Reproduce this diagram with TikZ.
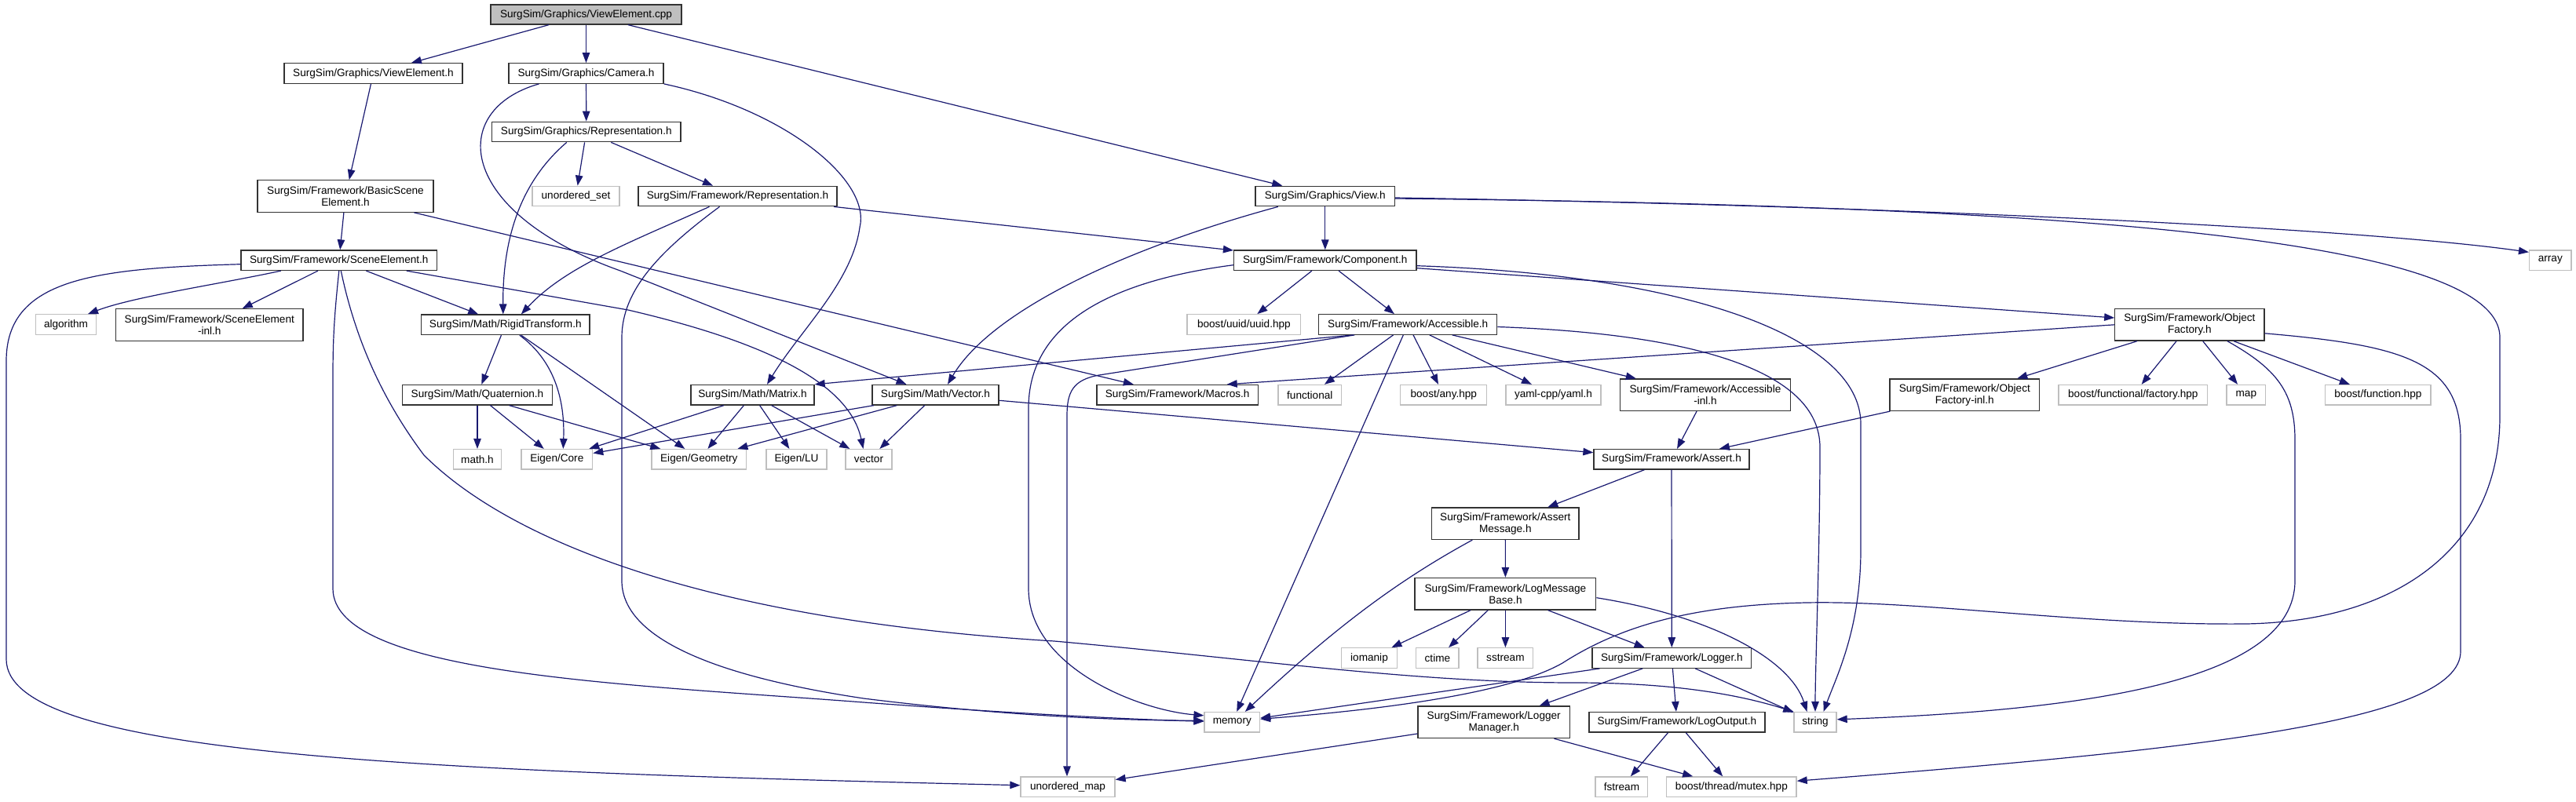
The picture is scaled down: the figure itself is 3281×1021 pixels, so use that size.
\documentclass[tikz,border=0pt]{standalone}
\usepackage{fontspec}
\setmainfont{Liberation Sans}
\usetikzlibrary{arrows.meta}
\definecolor{edgec}{HTML}{191970}
\definecolor{grayb}{HTML}{BFBFBF}
\definecolor{boxb}{HTML}{333333}
\begin{document}
\begin{tikzpicture}[x=1pt,y=-1pt,
  nbox/.style={draw=boxb, line width=1.3pt, inner sep=0pt, align=center,
    font=\fontsize{13.6}{15}\selectfont, minimum height=25.5pt, text=black},
  xbox/.style={nbox, draw=grayb},
  two/.style={minimum height=40.5pt},
  conn/.style={draw=edgec, line width=1.2pt, -{Triangle[length=13pt,width=9.5pt]}}]
\useasboundingbox (0,0) rectangle (3281,1021);
% nodes
\node[nbox, fill=grayb, minimum width=243pt, minimum height=25pt] (root) at (746.5,18.5) {SurgSim/Graphics/ViewElement.cpp};
\node[nbox, minimum width=227pt] (veh) at (475.5,93.5) {SurgSim/Graphics/ViewElement.h};
\node[nbox, minimum width=197pt] (cam) at (746.5,93.5) {SurgSim/Graphics/Camera.h};
\node[nbox, minimum width=240.5pt] (grep) at (746.8,168) {SurgSim/Graphics/Representation.h};
\node[xbox, minimum width=111pt] (uset) at (733.5,250) {unordered\_set};
\node[nbox, minimum width=253pt] (frep) at (939.5,250) {SurgSim/Framework/Representation.h};
\node[nbox, minimum width=177.5pt] (view) at (1687.8,250) {SurgSim/Graphics/View.h};
\node[nbox, two, minimum width=224pt] (bse) at (440,250) {SurgSim/Framework/BasicScene\\Element.h};
\node[nbox, minimum width=249.5pt] (se) at (431.8,331.7) {SurgSim/Framework/SceneElement.h};
\node[nbox, minimum width=232.5pt] (comp) at (1687.8,331.7) {SurgSim/Framework/Component.h};
\node[xbox, minimum width=53.5pt] (arr) at (3248.3,331.7) {array};
\node[xbox, minimum width=77pt] (alg) at (84,413.5) {algorithm};
\node[nbox, two, minimum width=238.5pt] (seinl) at (266.8,414) {SurgSim/Framework/SceneElement\\-inl.h};
\node[nbox, minimum width=214.4pt] (rt) at (643.8,413.8) {SurgSim/Math/RigidTransform.h};
\node[xbox, minimum width=144.7pt] (uuid) at (1584.4,413.5) {boost/uuid/uuid.hpp};
\node[nbox, minimum width=227pt] (acc) at (1793.2,413.5) {SurgSim/Framework/Accessible.h};
\node[nbox, two, minimum width=190.2pt] (of) at (2788.9,413.8) {SurgSim/Framework/Object\\Factory.h};
\node[nbox, minimum width=191pt] (quat) at (608,503.2) {SurgSim/Math/Quaternion.h};
\node[nbox, minimum width=157pt] (mat) at (958.5,503.2) {SurgSim/Math/Matrix.h};
\node[nbox, minimum width=161pt] (vec) at (1191.5,503.2) {SurgSim/Math/Vector.h};
\node[nbox, minimum width=205.4pt] (mac) at (1499.7,503.2) {SurgSim/Framework/Macros.h};
\node[xbox, minimum width=80.5pt] (func) at (1668.3,503.2) {functional};
\node[xbox, minimum width=110pt] (bany) at (1838.8,503.2) {boost/any.hpp};
\node[xbox, minimum width=121pt] (yaml) at (1978.5,503.2) {yaml-cpp/yaml.h};
\node[nbox, two, minimum width=217pt] (accinl) at (2172,503.2) {SurgSim/Framework/Accessible\\-inl.h};
\node[nbox, two, minimum width=190.5pt] (ofinl) at (2502.3,503.2) {SurgSim/Framework/Object\\Factory-inl.h};
\node[xbox, minimum width=189.5pt] (bff) at (2716.8,503.2) {boost/functional/factory.hpp};
\node[xbox, minimum width=49.7pt] (map) at (2860.8,503.2) {map};
\node[xbox, minimum width=134.4pt] (bfn) at (3028.8,503.2) {boost/function.hpp};
\node[xbox, minimum width=61.2pt] (math) at (608,585.3) {math.h};
\node[xbox, minimum width=90.7pt] (ecore) at (709.3,585.3) {Eigen/Core};
\node[xbox, minimum width=120.7pt] (egeo) at (890.3,585.3) {Eigen/Geometry};
\node[xbox, minimum width=77pt] (elu) at (1014.5,585.3) {Eigen/LU};
\node[xbox, minimum width=59pt] (vector) at (1106.5,585.3) {vector};
\node[nbox, minimum width=198pt] (assert) at (2129,585.3) {SurgSim/Framework/Assert.h};
\node[nbox, two, minimum width=187.4pt] (amsg) at (1917.3,667.2) {SurgSim/Framework/Assert\\Message.h};
\node[nbox, two, minimum width=230.7pt] (lmb) at (1917.4,756.7) {SurgSim/Framework/LogMessage\\Base.h};
\node[xbox, minimum width=71pt] (ioman) at (1744,838.5) {iomanip};
\node[xbox, minimum width=54.3pt] (ctime) at (1830.9,838.5) {ctime};
\node[xbox, minimum width=70.8pt] (sstream) at (1917.4,838.5) {sstream};
\node[nbox, minimum width=202.5pt] (logger) at (2129.3,838.5) {SurgSim/Framework/Logger.h};
\node[xbox, minimum width=70.5pt] (memory) at (1569.3,920.3) {memory};
\node[nbox, two, minimum width=193.3pt] (lman) at (1902.7,920.3) {SurgSim/Framework/Logger\\Manager.h};
\node[nbox, minimum width=224pt] (lout) at (2136,920.3) {SurgSim/Framework/LogOutput.h};
\node[xbox, minimum width=54pt] (string) at (2312,920.3) {string};
\node[xbox, minimum width=120pt] (umap) at (1360,1002.7) {unordered\_map};
\node[xbox, minimum width=66.7pt] (fstream) at (2065.4,1002.7) {fstream};
\node[xbox, minimum width=165.3pt] (mutex) at (2205.4,1002.7) {boost/thread/mutex.hpp};
% edges
\draw[conn] (root) -- (veh);
\draw[conn] (root) -- (cam);
\draw[conn] (root) -- (view);
\draw[conn] (veh) -- (bse);
\draw[conn] (cam) -- (grep);
\draw[conn] ([xshift=-60pt]cam.south) .. controls (570,140) and (580,270) .. (790,345) -- ([xshift=-37pt]vec.north);
\draw[conn] (cam.south east) .. controls (1000,140) and (1110,230) .. (1095,290) .. controls (1085,360) and (1020,420) .. ([xshift=18.5pt]mat.north);
\draw[conn] (grep) -- (uset);
\draw[conn] (grep) -- (frep);
\draw[conn] ([xshift=-25pt]grep.south) .. controls (665,230) and (640,300) .. ([xshift=-3pt]rt.north);
\draw[conn] ([xshift=-36pt]frep.south) .. controls (800,310) and (720,340) .. ([xshift=20pt]rt.north);
\draw[conn] (frep) -- (comp);
\draw[conn] ([xshift=-23pt]frep.south) .. controls (840,320) and (792,370) .. (792,430) -- (792,740) .. controls (792,810) and (900,860) .. (1100,890) .. controls (1300,915) and (1450,918) .. ([yshift=2pt]memory.west);
\draw[conn] (view) -- (comp);
\draw[conn] ([xshift=-60pt]view.south) .. controls (1420,320) and (1260,400) .. ([xshift=15.5pt]vec.north);
\draw[conn] ([yshift=-2pt]view.east) .. controls (2400,262) and (3000,290) .. ([yshift=-3pt]arr.north west);
\draw[conn] ([yshift=-3pt]view.east) .. controls (2600,262) and (3184,300) .. (3184,430) -- (3184,530) .. controls (3184,700) and (3050,792) .. (2860,795) .. controls (2650,797) and (2450,765) .. (2300,768) .. controls (2150,771) and (2060,800) .. (1990,845) .. controls (1920,885) and (1750,905) .. ([yshift=4pt]memory.east);
\draw[conn] (comp) -- (acc);
\draw[conn] (comp) -- (uuid);
\draw[conn] ([yshift=-6pt]comp.west) .. controls (1400,360) and (1310,420) .. (1310,520) -- (1310,750) .. controls (1310,850) and (1450,905) .. ([yshift=8.5pt]memory.west);
\draw[conn] ([yshift=-7pt]comp.east) .. controls (2150,350) and (2370,430) .. (2370,540) -- (2370,700) .. controls (2370,800) and (2340,860) .. ([xshift=10.5pt]string.north);
\draw[conn] ([yshift=-10pt]comp.east) -- ([yshift=8.8pt]of.west);
\draw[conn] ([xshift=-74pt]se.south) .. controls (280,362) and (170,378) .. ([xshift=28pt]alg.north);
\draw[conn] (se) -- (seinl);
\draw[conn] (se) -- (rt);
\draw[conn] ([yshift=-5pt]se.west) .. controls (120,342) and (8,355) .. (8,460) -- (8,840) .. controls (8,960) and (500,982) .. ([yshift=2pt]umap.west);
\draw[conn] (se.south) .. controls (426,400) and (424,430) .. (424,480) -- (424,750) .. controls (424,860) and (800,872) .. (1100,895) .. controls (1300,910) and (1450,917) .. ([yshift=1pt]memory.west);
\draw[conn] ([xshift=2.5pt]se.south) .. controls (450,420) and (480,500) .. (540,580) .. controls (650,690) and (900,790) .. (1343,817) .. controls (1600,840) and (1800,870) .. (2006,870) .. controls (2150,870) and (2230,890) .. (string.north west);
\draw[conn] ([xshift=86pt]se.south) -- (800,395) .. controls (950,430) and (1080,480) .. ([xshift=-7pt]vector.north);
\draw[conn] (rt) -- (quat);
\draw[conn] ([xshift=18pt]rt.south) .. controls (700,455) and (720,500) .. ([xshift=8pt]ecore.north);
\draw[conn] ([xshift=20pt]rt.south) -- ([xshift=-18pt]egeo.north);
\draw[conn] (quat) -- (math);
\draw[conn] (quat) -- (ecore);
\draw[conn] ([xshift=40.5pt]quat.south) -- ([xshift=-49pt]egeo.north);
\draw[conn] ([xshift=-36.5pt]mat.south) -- ([xshift=41pt]ecore.north);
\draw[conn] (mat) -- (egeo);
\draw[conn] (mat) -- (elu);
\draw[conn] (mat) -- (vector);
\draw[conn] (vec) -- (ecore);
\draw[conn] (vec) -- (egeo);
\draw[conn] (vec) -- (vector);
\draw[conn] (vec) -- (assert);
\draw[conn] (bse) -- (se);
\draw[conn] (bse) -- (mac);
\draw[conn] ([xshift=-69.5pt]acc.south) -- (mat.north east);
\draw[conn] ([xshift=-68pt]acc.south) -- (1400,478) .. controls (1366,484) and (1359,500) .. (1359,530) -- ([xshift=-1pt]umap.north);
\draw[conn] (acc) -- (func);
\draw[conn] (acc) -- (bany);
\draw[conn] (acc) -- (yaml);
\draw[conn] (acc) -- (accinl);
\draw[conn] (acc) -- (memory);
\draw[conn] ([yshift=-3pt]acc.east) .. controls (2150,425) and (2318,470) .. (2318,570) .. controls (2318,700) and (2312,850) .. (string.north);
\draw[conn] (accinl) -- (assert);
\draw[conn] (ofinl) -- (assert);
\draw[conn] (of) -- (ofinl);
\draw[conn] (of) -- (bff);
\draw[conn] (of) -- (map);
\draw[conn] (of) -- (bfn);
\draw[conn] ([xshift=48pt]of.south) .. controls (2900,470) and (2923,500) .. (2923,560) -- (2923,740) .. controls (2923,870) and (2650,905) .. ([yshift=3.5pt]string.east);
\draw[conn] ([yshift=-11pt]of.east) .. controls (3060,440) and (3134,460) .. (3134,560) -- (3134,830) .. controls (3134,920) and (2800,955) .. ([yshift=7.5pt]mutex.east);
\draw[conn] (of.west) -- ([xshift=63pt]mac.north);
\draw[conn] (assert) -- (amsg);
\draw[conn] (assert) -- (logger);
\draw[conn] (amsg) -- (lmb);
\draw[conn] ([xshift=-42pt]amsg.south) .. controls (1780,740) and (1700,800) .. ([xshift=16.5pt]memory.north);
\draw[conn] (lmb) -- (ioman);
\draw[conn] (lmb) -- (ctime);
\draw[conn] (lmb) -- (sstream);
\draw[conn] (lmb) -- (logger);
\draw[conn] ([yshift=-5pt]lmb.east) .. controls (2180,785) and (2280,840) .. ([xshift=-10.5pt]string.north);
\draw[conn] (logger) -- (memory);
\draw[conn] (logger) -- (lman);
\draw[conn] (logger) -- (lout);
\draw[conn] (logger) -- (string);
\draw[conn] (lman) -- (umap);
\draw[conn] (lman) -- (mutex);
\draw[conn] (lout) -- (fstream);
\draw[conn] (lout) -- (mutex);
\end{tikzpicture}
\end{document}
